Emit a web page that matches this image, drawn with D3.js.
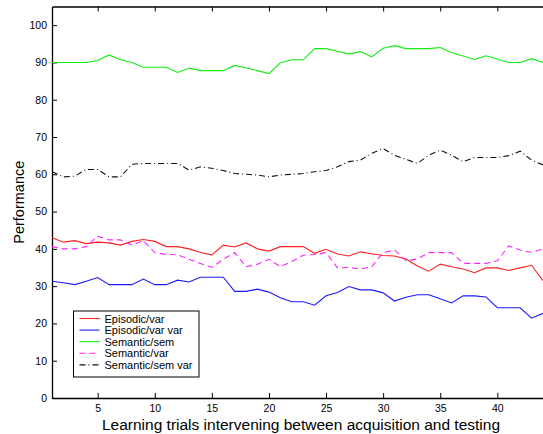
<!DOCTYPE html>
<html>
<head>
<meta charset="utf-8">
<script src="https://cdn.jsdelivr.net/npm/d3@7"></script>
<style>
  body { margin: 0; background: #fff; }
  svg { display: block; font-family: "Liberation Sans", Arial, sans-serif; }
</style>
</head>
<body>
<script>
    let trials = d3.range(1, 45);
    let episodicVar = [43,41.8,42.2,41.4,41.8,41.6,41,42,42.5,42,40.6,40.6,40,39,38.4,41,40.5,41.6,40,39.4,40.6,40.6,40.6,38.8,39.9,38.6,38.1,39.2,38.7,38.2,38.1,37.3,35.4,34,35.9,35.2,34.6,33.6,34.9,34.9,34.2,34.9,35.6,31.5];
    let episodicVarVar = [31.3,30.9,30.4,31.3,32.3,30.4,30.4,30.4,31.9,30.4,30.4,31.6,31.1,32.4,32.4,32.4,28.6,28.6,29.2,28.4,26.9,25.8,25.8,24.9,27.4,28.3,29.9,29,29,28.2,26,27,27.7,27.7,26.6,25.5,27.4,27.4,27.1,24.2,24.2,24.2,21.4,22.7];
    let semanticSem = [90,90,90,90,90.5,92,90.7,90,88.7,88.7,88.7,87.3,88.5,87.8,87.8,87.8,89.2,88.5,87.8,87,89.9,90.7,90.7,93.7,93.7,93,92.3,92.9,91.5,93.8,94.5,93.7,93.7,93.7,94,92.6,91.7,90.8,91.8,90.9,90,90,91,90];
    let semanticVar = [40.6,40,40,40.6,43.4,42.4,42.4,41,42.2,39,38.5,38.4,37.2,36.1,35,37.2,39,35.2,35.9,37.2,35.2,36.6,38.3,38.5,39,34.9,35,34.6,35.2,39,39.7,36.8,37.3,39,39,39,36.1,36.1,36.1,36.8,40.8,39.7,39,40];
    let semanticSemVar = [60.7,59.3,59.5,61.3,61.3,59.3,59.3,62.7,62.9,62.9,62.9,62.9,61.1,62,61.6,61,60.2,60,59.8,59.3,59.8,60,60.2,60.7,61,62,63.4,63.8,65.6,66.9,65.1,64,62.9,65.1,66.5,65.1,63.4,64.5,64.5,64.5,65,66.2,63.8,62.5];
    let xTicks = [5, 10, 15, 20, 25, 30, 35, 40];
    let yTicks = [0, 10, 20, 30, 40, 50, 60, 70, 80, 90, 100];

    let series = [
      {name: "Episodic/var", values: episodicVar, color: "#ff2020", dash: null},
      {name: "Episodic/var var", values: episodicVarVar, color: "#1a1aff", dash: null},
      {name: "Semantic/sem", values: semanticSem, color: "#11ee11", dash: null},
      {name: "Semantic/var", values: semanticVar, color: "#ff22ff", dash: "6,4"},
      {name: "Semantic/sem var", values: semanticSemVar, color: "#111", dash: "6,3,1,3"}
    ];

    let width = 543, height = 434;
    let plot = {left: 52, right: 543, top: 6.5, bottom: 398};

    const svg = d3.select("body")
      .append("svg")
      .attr("width", width)
      .attr("height", height);

    let xscale = d3.scaleLinear()
      .domain([1, 44])
      .range([plot.left, plot.right]);

    let yscale = d3.scaleLinear()
      .domain([0, 105])
      .range([plot.bottom, plot.top]);

    // bottom axis, ticks pointing inward
    let x_axis = d3.axisBottom(xscale)
      .tickValues(xTicks)
      .tickSizeInner(-5)
      .tickSizeOuter(0)
      .tickPadding(7);

    let gx = svg.append("g")
      .attr("transform", "translate(0," + plot.bottom + ")")
      .call(x_axis);
    gx.selectAll("text").style("font-size", "10.5px").attr("fill", "#000");

    // top axis, ticks only
    svg.append("g")
      .attr("transform", "translate(0," + plot.top + ")")
      .call(d3.axisTop(xscale).tickValues(xTicks).tickSizeInner(-5).tickSizeOuter(0).tickFormat(""));

    let y_axis = d3.axisLeft(yscale)
      .tickValues(yTicks)
      .tickSizeInner(-5)
      .tickSizeOuter(0)
      .tickPadding(5);

    let gy = svg.append("g")
      .attr("transform", "translate(" + plot.left + ",0)")
      .call(y_axis);
    gy.selectAll("text").style("font-size", "10.5px").attr("fill", "#000");

    svg.selectAll(".domain").attr("stroke", "#000").attr("stroke-width", 1.3);
    svg.selectAll(".tick line").attr("stroke", "#000");

    let line = d3.line()
      .x((d, i) => xscale(trials[i]))
      .y((d) => yscale(d));

    svg.append("g")
      .selectAll("path")
      .data(series)
      .enter()
      .append("path")
      .attr("d", (d) => line(d.values))
      .attr("fill", "none")
      .attr("stroke", (d) => d.color)
      .attr("stroke-width", 1.1)
      .attr("stroke-dasharray", (d) => d.dash);

    svg.append("text")
      .text("Performance")
      .attr("text-anchor", "middle")
      .attr("transform", "translate(24," + yscale(52.5) + ") rotate(-90)")
      .style("font-size", "14.5px");

    svg.append("text")
      .text("Learning trials intervening between acquisition and testing")
      .attr("x", 301)
      .attr("y", 429.5)
      .attr("text-anchor", "middle")
      .style("font-size", "15.5px");

    // legend
    let legend = svg.append("g").attr("transform", "translate(73.5,311)");
    legend.append("rect")
      .attr("width", 125.5)
      .attr("height", 66)
      .attr("fill", "#fff")
      .attr("stroke", "#000");

    let rows = legend.selectAll("g.row")
      .data(series)
      .enter()
      .append("g")
      .attr("class", "row")
      .attr("transform", (d, i) => "translate(0," + (7.5 + i * 11.6) + ")");

    rows.append("line")
      .attr("x1", 6).attr("x2", 26)
      .attr("stroke", (d) => d.color)
      .attr("stroke-width", 1.1)
      .attr("stroke-dasharray", (d) => d.dash);

    rows.append("text")
      .text((d) => d.name)
      .attr("x", 31)
      .attr("y", 4)
      .style("font-size", "11px");
</script>
</body>
</html>
